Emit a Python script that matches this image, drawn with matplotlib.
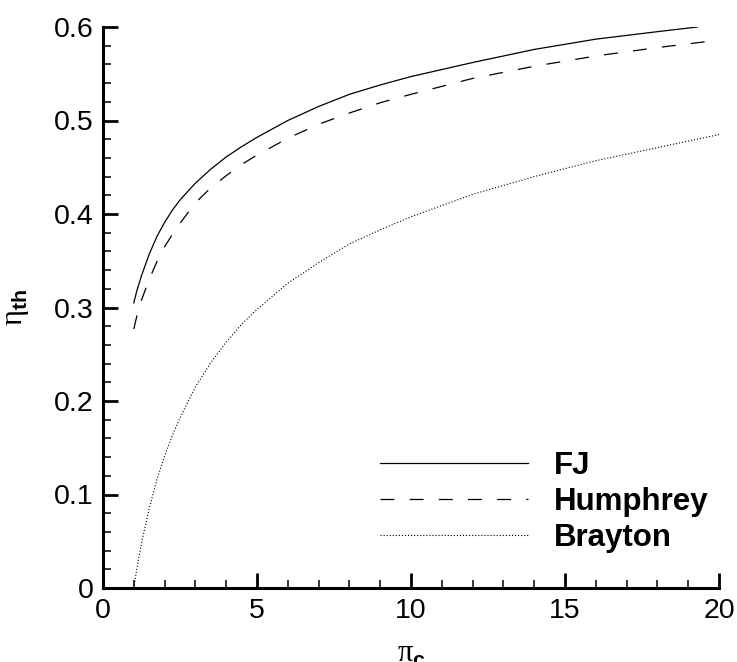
import matplotlib
matplotlib.use("Agg")
import matplotlib.pyplot as plt
from matplotlib.ticker import MultipleLocator

plt.rcParams['font.family'] = ['Liberation Sans', 'DejaVu Sans']
plt.rcParams['mathtext.fontset'] = 'custom'
plt.rcParams['mathtext.bf'] = 'Liberation Sans:bold'
plt.rcParams['mathtext.rm'] = 'Liberation Serif'
plt.rcParams['lines.scale_dashes'] = False

# values
fj_x = [1, 1.1, 1.25, 1.5, 1.75, 2, 2.25, 2.5, 3, 3.5, 4, 4.5, 5, 6, 7, 8, 9, 10,
        12, 14, 16, 18, 19.3]
fj_y = [0.305, 0.318, 0.334, 0.357, 0.376, 0.391, 0.404, 0.415, 0.433, 0.448,
        0.461, 0.472, 0.482, 0.500, 0.515, 0.528, 0.538, 0.547, 0.562, 0.576,
        0.587, 0.595, 0.600]

hum_x = [1, 1.1, 1.25, 1.5, 1.75, 2, 2.25, 2.5, 3, 3.5, 4, 4.5, 5, 6, 7, 8, 9, 10,
         12, 14, 16, 18, 20]
hum_y = [0.277, 0.291, 0.308, 0.330, 0.349, 0.365, 0.378, 0.390, 0.412, 0.428,
         0.441, 0.453, 0.463, 0.481, 0.496, 0.508, 0.519, 0.528, 0.545, 0.558,
         0.569, 0.578, 0.586]

bra_x = [1, 1.1, 1.25, 1.5, 1.75, 2, 2.25, 2.5, 3, 3.5, 4, 4.5, 5, 6, 7, 8, 9, 10,
         12, 14, 16, 18, 20]
bra_y = [0.0, 0.021, 0.048, 0.085, 0.116, 0.141, 0.163, 0.182, 0.215, 0.241,
         0.263, 0.282, 0.298, 0.326, 0.348, 0.368, 0.383, 0.397, 0.421, 0.440,
         0.457, 0.471, 0.485]

fig = plt.figure(figsize=(7.37, 6.62), dpi=100)
ax = fig.add_axes([103/737, 1-588/662, 616/737, 561/662])

ax.plot(fj_x, fj_y, color='black', lw=0.9, label='FJ')
ax.plot(hum_x, hum_y, color='black', lw=0.9, linestyle=(0, (10, 11)), label='Humphrey')
ax.plot(bra_x, bra_y, color='black', lw=0.8, linestyle=(0, (0.8, 1.4)), label='Brayton')

ax.set_xlim(0, 20)
ax.set_ylim(0, 0.6)
ax.set_xticks([0, 5, 10, 15, 20])
ax.set_xticklabels(['0', '5', '10', '15', '20'])
ax.set_yticks([0, 0.1, 0.2, 0.3, 0.4, 0.5, 0.6])
ax.set_yticklabels(['0', '0.1', '0.2', '0.3', '0.4', '0.5', '0.6'])
ax.xaxis.set_minor_locator(MultipleLocator(1))
ax.yaxis.set_minor_locator(MultipleLocator(0.02))

for s in ['top', 'right']:
    ax.spines[s].set_visible(False)
for s in ['left', 'bottom']:
    ax.spines[s].set_linewidth(2.2)
ax.tick_params(which='major', direction='in', length=11, width=2, labelsize=20.5, pad=7)
ax.tick_params(which='minor', direction='in', length=6, width=1.1)

ax.set_xlabel(r'π$_{\mathbf{c}}$', fontsize=22, family='Liberation Serif', labelpad=12)
ax.set_ylabel(r'η$_{\mathbf{th}}$', fontsize=22, family='Liberation Serif', labelpad=16)

ax.legend(loc='center left', bbox_to_anchor=(380/737, 1-502/662), bbox_transform=fig.transFigure,
          frameon=False, prop={'weight': 'bold', 'size': 22.5}, handlelength=4.75,
          handletextpad=0.8, labelspacing=0.2, borderpad=0, borderaxespad=0)

fig.savefig('out.png', dpi=100)
